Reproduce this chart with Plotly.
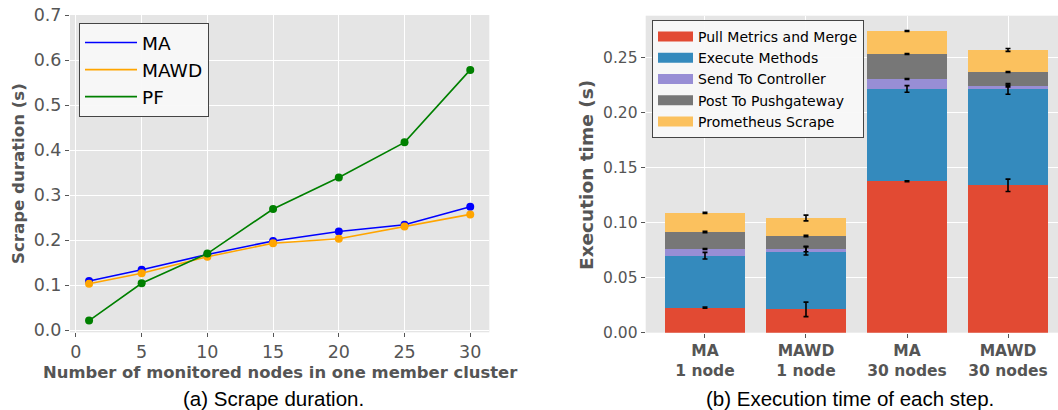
import plotly.graph_objects as go

# ---- Data: left panel (scrape duration) ----
nodes = [1, 5, 10, 15, 20, 25, 30]
ma = [0.109, 0.134, 0.168, 0.198, 0.219, 0.234, 0.274]
mawd = [0.103, 0.126, 0.163, 0.193, 0.203, 0.230, 0.257]
pf = [0.021, 0.104, 0.170, 0.269, 0.339, 0.417, 0.578]

# ---- Data: right panel (execution time of each step) ----
groups = ["MA<br>1 node", "MAWD<br>1 node", "MA<br>30 nodes", "MAWD<br>30 nodes"]
steps = ["Pull Metrics and Merge", "Execute Methods", "Send To Controller",
         "Post To Pushgateway", "Prometheus Scrape"]
pull = [0.0227, 0.0212, 0.1375, 0.1338]
execm = [0.0472, 0.0530, 0.0838, 0.0875]
send = [0.0061, 0.0018, 0.0090, 0.0027]
post = [0.0154, 0.0118, 0.0227, 0.0127]
scrape = [0.0173, 0.0163, 0.0209, 0.0200]
pull_err = [0.0005, 0.0066, 0.0005, 0.0056]
exec_err = [0.0030, 0.0036, 0.0030, 0.0048]
send_err = [0.0004, 0.0025, 0.0004, 0.0008]
post_err = [0.0006, 0.0006, 0.0004, 0.0004]
scrape_err = [0.0005, 0.0026, 0.0004, 0.0013]

step_vals = [pull, execm, send, post, scrape]
step_errs = [pull_err, exec_err, send_err, post_err, scrape_err]
step_colors = ["#E24A33", "#348ABD", "#988ED5", "#777777", "#FBC15E"]

W, H = 1058, 410
def px_x(a, b):
    return [a / W, b / W]
def px_y(top, bottom):
    return [(H - bottom) / H, (H - top) / H]

fig = go.Figure()

line_cols = {"MA": "blue", "MAWD": "orange", "PF": "green"}
for name, ys in [("MA", ma), ("MAWD", mawd), ("PF", pf)]:
    fig.add_trace(go.Scatter(x=nodes, y=ys, mode="lines", name=name,
                             line=dict(color=line_cols[name], width=1.6),
                             xaxis="x", yaxis="y", legend="legend"))
    fig.add_trace(go.Scatter(x=nodes, y=ys, mode="markers", showlegend=False,
                             marker=dict(color=line_cols[name], size=8),
                             xaxis="x", yaxis="y"))

xpos = list(range(len(groups)))
for name, vals, col in zip(steps, step_vals, step_colors):
    fig.add_trace(go.Bar(x=xpos, y=vals, name=name, marker=dict(color=col, line=dict(width=0)),
                         width=0.8, xaxis="x2", yaxis="y2", showlegend=False))
    # legend proxy drawn as a wide rectangle (thick line swatch)
    fig.add_trace(go.Scatter(x=[None], y=[None], mode="lines", name=name,
                             line=dict(color=col, width=11),
                             xaxis="x2", yaxis="y2", legend="legend2"))

# error bars at the top of each stacked segment
cum = [0.0] * len(groups)
for vals, errs in zip(step_vals, step_errs):
    cum = [c + v for c, v in zip(cum, vals)]
    fig.add_trace(go.Scatter(x=xpos, y=cum, mode="markers", showlegend=False,
                             marker=dict(opacity=0, size=1),
                             error_y=dict(type="data", array=errs, visible=True,
                                          color="black", thickness=1.6, width=2.5),
                             xaxis="x2", yaxis="y2"))

tickfont_l = dict(family="DejaVu Sans", size=17.5, color="#555555")
tickfont_r = dict(family="DejaVu Sans", size=15.5, color="#555555")

common = dict(showgrid=True, gridcolor="white", gridwidth=1, zeroline=False,
              ticks="outside", ticklen=4, tickcolor="#555555", showline=False,
              automargin=False)

fig.update_layout(
    width=W, height=H,
    margin=dict(l=0, r=0, t=0, b=0, autoexpand=False),
    paper_bgcolor="white",
    plot_bgcolor="#E5E5E5",
    barmode="stack",
    font=dict(family="DejaVu Sans", color="black"),
    xaxis=dict(domain=px_x(70, 489.3), range=[-0.45, 31.45],
               tickvals=[0, 5, 10, 15, 20, 25, 30], tickfont=tickfont_l,
               anchor="y", **common),
    yaxis=dict(domain=px_y(15, 332.3), range=[-0.005, 0.7],
               tickvals=[0, 0.1, 0.2, 0.3, 0.4, 0.5, 0.6, 0.7],
               ticktext=["0.0", "0.1", "0.2", "0.3", "0.4", "0.5", "0.6", "0.7"],
               tickfont=tickfont_l, anchor="x", **common),
    xaxis2=dict(domain=px_x(645.7, 1058), range=[-0.587, 3.495],
                tickvals=xpos, ticktext=["<b>" + g.replace("<br>", "</b><br><b>") + "</b>" for g in groups],
                tickfont=tickfont_r, anchor="y2", **common),
    yaxis2=dict(domain=px_y(15.7, 332.7), range=[0, 0.2878],
                tickvals=[0, 0.05, 0.10, 0.15, 0.20, 0.25],
                ticktext=["0.00", "0.05", "0.10", "0.15", "0.20", "0.25"],
                tickfont=tickfont_r, anchor="x2", **common),
    legend=dict(x=79 / W, y=(H - 23) / H, xanchor="left", yanchor="top",
                bgcolor="rgba(248,248,248,0.95)", bordercolor="#444444", borderwidth=1,
                font=dict(family="DejaVu Sans", size=18.5, color="black"),
                traceorder="normal", itemwidth=52),
    legend2=dict(x=652 / W, y=(H - 20) / H, xanchor="left", yanchor="top",
                 bgcolor="rgba(248,248,248,0.95)", bordercolor="#444444", borderwidth=1,
                 font=dict(family="DejaVu Sans", size=14, color="black"),
                 traceorder="normal", itemwidth=35),
)

annots = [
    dict(text="<b>Number of monitored nodes in one member cluster</b>", x=(43 + 518) / 2 / W, y=(H - 372) / H,
         font=dict(family="DejaVu Sans", size=16.4, color="#555555")),
    dict(text="<b>Scrape duration (s)</b>", x=18 / W, y=(H - 174) / H, textangle=-90,
         font=dict(family="DejaVu Sans", size=16.6, color="#555555")),
    dict(text="<b>Execution time (s)</b>", x=586 / W, y=(H - 175) / H, textangle=-90,
         font=dict(family="DejaVu Sans", size=18.5, color="#555555")),
    dict(text="(a) Scrape duration.", x=273 / W, y=(H - 398) / H,
         font=dict(family="Liberation Sans", size=20.5, color="black")),
    dict(text="(b) Execution time of each step.", x=850 / W, y=(H - 398) / H,
         font=dict(family="Liberation Sans", size=20.5, color="black")),
]
for a in annots:
    a.update(xref="paper", yref="paper", showarrow=False, xanchor="center", yanchor="middle")
    fig.add_annotation(**a)

fig.write_html("out.html",
               config={"displayModeBar": False},
               post_script="document.body.style.margin='0px';document.body.style.overflow='hidden';")
